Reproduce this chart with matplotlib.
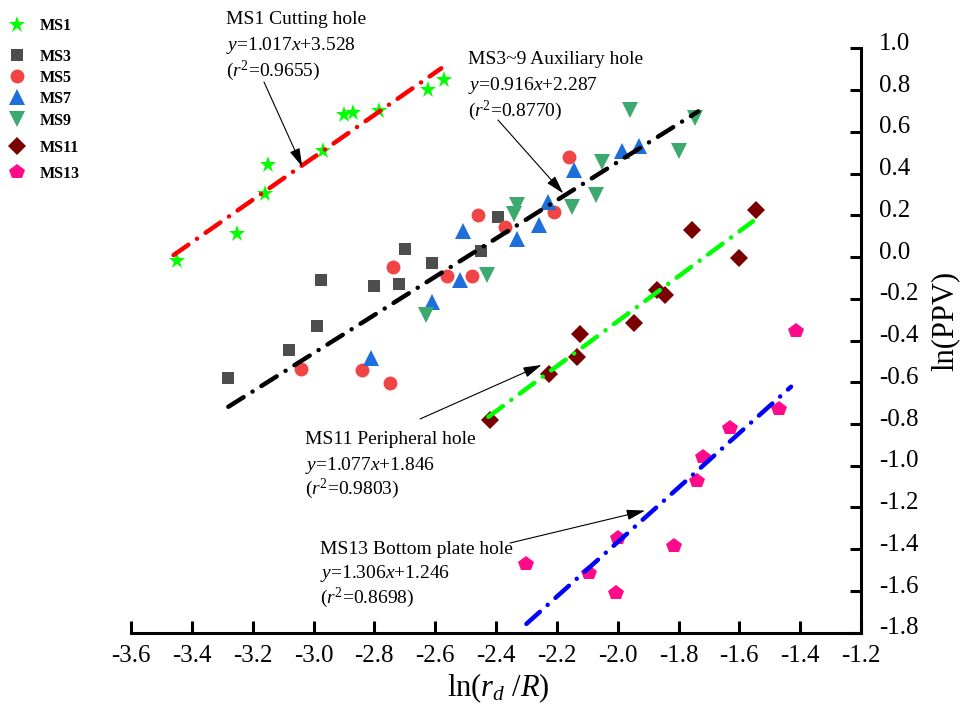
import matplotlib

matplotlib.use("Agg")
import matplotlib.pyplot as plt
import matplotlib.transforms as mtransforms

W, H = 966, 718

plt.rcParams["font.family"] = ["Liberation Serif", "DejaVu Serif"]
plt.rcParams["mathtext.fontset"] = "custom"
plt.rcParams["mathtext.rm"] = "Liberation Serif"
plt.rcParams["mathtext.it"] = "Liberation Serif:italic"
plt.rcParams["mathtext.bf"] = "Liberation Serif:bold"
plt.rcParams["axes.unicode_minus"] = False
plt.rcParams["lines.scale_dashes"] = False

# measured points, ln(r_d/R) vs ln(PPV)
ms1_x = [-3.45, -3.25, -3.16, -3.15, -2.97, -2.90, -2.87, -2.785, -2.625, -2.57]
ms1_y = [-0.02, 0.11, 0.30, 0.44, 0.51, 0.68, 0.69, 0.70, 0.80, 0.85]
ms3_x = [-3.28, -3.08, -2.99, -2.975, -2.80, -2.72, -2.70, -2.61, -2.45, -2.395]
ms3_y = [-0.58, -0.445, -0.33, -0.11, -0.14, -0.13, 0.04, -0.03, 0.03, 0.19]
ms5_x = [-3.04, -2.84, -2.75, -2.74, -2.56, -2.48, -2.46, -2.37, -2.21, -2.16]
ms5_y = [-0.535, -0.54, -0.605, -0.05, -0.09, -0.09, 0.20, 0.145, 0.215, 0.48]
ms7_x = [-2.81, -2.61, -2.52, -2.51, -2.33, -2.26, -2.23, -2.145, -1.985, -1.93]
ms7_y = [-0.485, -0.215, -0.11, 0.125, 0.085, 0.155, 0.265, 0.415, 0.51, 0.53]
ms9_x = [-2.63, -2.43, -2.34, -2.33, -2.15, -2.07, -2.05, -1.96, -1.80, -1.745]
ms9_y = [-0.28, -0.085, 0.205, 0.25, 0.24, 0.295, 0.455, 0.705, 0.51, 0.665]
ms11_x = [-2.42, -2.225, -2.135, -2.125, -1.945, -1.87, -1.845, -1.755, -1.60, -1.545]
ms11_y = [-0.78, -0.56, -0.48, -0.37, -0.315, -0.16, -0.18, 0.13, -0.005, 0.225]
ms13_x = [-2.30, -2.095, -2.005, -1.998, -1.815, -1.74, -1.72, -1.63, -1.47, -1.415]
ms13_y = [-1.47, -1.515, -1.61, -1.345, -1.385, -1.075, -0.96, -0.82, -0.73, -0.355]

# fitted lines: name, slope, intercept, r2, x range
fit_names = ["MS1 Cutting hole", "MS3~9 Auxiliary hole",
             "MS11 Peripheral hole", "MS13 Bottom plate hole"]
fit_slope = [1.017, 0.916, 1.077, 1.306]
fit_icpt = [3.528, 2.287, 1.846, 1.246]
fit_r2 = ["0.9655", "0.8770", "0.9803", "0.8698"]
fit_x0 = [-3.46, -3.28, -2.425, -2.30]
fit_x1 = [-2.58, -1.735, -1.555, -1.43]
fit_colors = ["#FF0000", "#000000", "#00FF00", "#0000FF"]

x_ticks = [-3.6, -3.4, -3.2, -3.0, -2.8, -2.6, -2.4, -2.2, -2.0, -1.8, -1.6, -1.4, -1.2]
y_ticks = [1.0, 0.8, 0.6, 0.4, 0.2, 0.0, -0.2, -0.4, -0.6, -0.8, -1.0, -1.2, -1.4, -1.6, -1.8]

series = [
    ("MS1", ms1_x, ms1_y, dict(marker="*", ms=12.6, color="#00FF00")),
    ("MS3", ms3_x, ms3_y, dict(marker="s", ms=9.0, color="#4D4D4D")),
    ("MS5", ms5_x, ms5_y, dict(marker="o", ms=10.0, color="#F04545")),
    ("MS7", ms7_x, ms7_y, dict(marker="^", ms=11.5, color="#1E6FDB")),
    ("MS9", ms9_x, ms9_y, dict(marker="v", ms=11.5, color="#3CAA6E")),
    ("MS11", ms11_x, ms11_y, dict(marker="D", ms=8.8, color="#7A0000")),
    ("MS13", ms13_x, ms13_y, dict(marker="p", ms=11.4, color="#FF0A8A")),
]


def px(x, y):
    return (x / W, 1 - y / H)


fig = plt.figure(figsize=(W / 100, H / 100), dpi=100)
ax = fig.add_axes([131 / W, 1 - 632.7 / H, 730 / W, 584.4 / H])

handles = []
for name, xs, ys, st in series:
    (h,) = ax.plot(xs, ys, linestyle="none", marker=st["marker"], ms=st["ms"],
                   color=st["color"], mew=0, zorder=2, clip_on=False)
    handles.append(h)

for i in range(len(fit_names)):
    xs = [fit_x0[i], fit_x1[i]]
    ys = [fit_slope[i] * v + fit_icpt[i] for v in xs]
    ax.plot(xs, ys, color=fit_colors[i], lw=3.2, zorder=3,
            linestyle=(0, (13, 7.5, 0.1, 7.5)), dash_capstyle="round")

ax.set_xlim(-3.6, -1.2)
ax.set_ylim(-1.8, 1.0)
ax.set_xticks(x_ticks)
ax.set_xticklabels([f"{v:.1f}" for v in x_ticks])
ax.yaxis.tick_right()
ax.set_yticks(y_ticks)
ax.set_yticklabels([f"{v:.1f}" for v in y_ticks])
for side in ["top", "left"]:
    ax.spines[side].set_visible(False)
for side in ["bottom", "right"]:
    ax.spines[side].set_linewidth(2.2)
ax.tick_params(axis="x", direction="in", length=8.5, width=2.2, labelsize=18, pad=9)
ax.tick_params(axis="y", direction="in", length=8, width=2.2, labelsize=18, pad=13,
               left=False, right=True, labelleft=False, labelright=True)
offset = mtransforms.ScaledTranslation(0, 5 / 72, fig.dpi_scale_trans)
for lab in ax.get_yticklabels():
    lab.set_transform(lab.get_transform() + offset)

ax.set_xlabel(r"ln($r_d$ /$R$)", fontsize=22)
ax.xaxis.set_label_coords(0.503, -0.0946)
ax.xaxis.label.set_va("center")
ax.set_ylabel("ln(PPV)", fontsize=22)
ax.yaxis.set_label_position("right")
ax.yaxis.set_label_coords(1.115, 0.533)
ax.yaxis.label.set_va("center")
ax.yaxis.label.set_ha("center")

# annotation text blocks (left x, baselines) in pixels
text_pos = [
    (226, [24.5, 49.5, 76.5]),
    (468, [64.5, 90.5, 116.5]),
    (305, [444.5, 469.5, 494.5]),
    (320, [553.5, 577.5, 603.5]),
]
arrow_tail = [(264, 82), (498, 120), (420, 419), (510, 543)]
arrow_tip = [(-3.037, 0.433), (-2.179, 0.305), (-2.25, -0.517), (-1.91, -1.215)]
for i in range(len(fit_names)):
    lines = [fit_names[i],
             rf"$y$={fit_slope[i]:.3f}$x$+{fit_icpt[i]:.3f}",
             rf"($r^2$={fit_r2[i]})"]
    x0, bases = text_pos[i]
    for s, b in zip(lines, bases):
        fig.text(*px(x0, b), s, fontsize=14, ha="left", va="baseline")
    ax.annotate("", xy=arrow_tip[i], xycoords="data",
                xytext=px(*arrow_tail[i]), textcoords="figure fraction",
                arrowprops=dict(arrowstyle="-|>,head_length=0.7,head_width=0.2",
                                color="k", lw=0.8, mutation_scale=16,
                                shrinkA=0, shrinkB=0))

legend_y = [26.5, 57, 78, 99, 121, 148, 174]
for h, (name, _, _, _), yc in zip(handles, series, legend_y):
    fig.legend(handles=[h], labels=[name], loc="center left",
               bbox_to_anchor=px(9, yc), frameon=False, borderpad=0,
               borderaxespad=0, handlelength=1.0, handletextpad=0.9,
               prop={"weight": "bold", "size": 11.5})

fig.savefig("out.png", dpi=100)
